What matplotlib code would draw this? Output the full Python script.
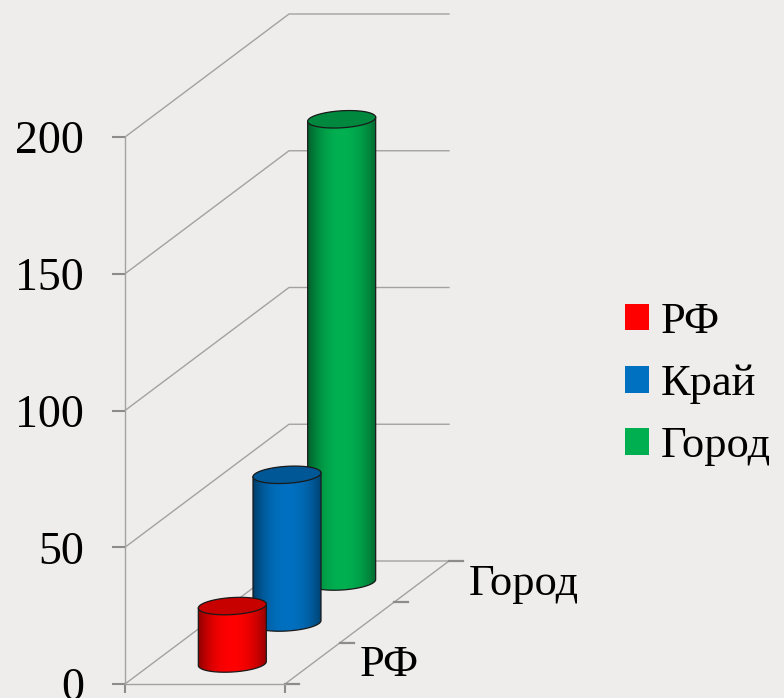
import numpy as np
import matplotlib
matplotlib.use("Agg")
import matplotlib.pyplot as plt
from matplotlib.patches import Polygon, Patch

# Data
series = ["РФ", "Край", "Город"]
values = [21, 54, 169]
colors = ["#FF0000", "#0070C0", "#00B050"]
yticks = [0, 50, 100, 150, 200]
depth_label_idx = [0, 2]  # the "Край" label is skipped in the original

# Geometry (pixels -> data units), figure is 784x698 px
W, H = 784, 698
X0_PX, Y0_PX = 125, 684          # front-left floor corner
PX_X = 1 / 160                   # category width = 160 px
PX_Y = 200 / 547                 # 200 units = 547 px
DX = 164 * PX_X                  # depth offset of back wall
DY = 123 * PX_Y
BG = "#EEEDEB"
GRID = "#A2A2A2"
TICK = "#8C8C8C"
FONT = "Liberation Serif"
FS = 33

fig = plt.figure(figsize=(W / 100, H / 100), dpi=100, facecolor=BG)
ax = fig.add_axes([0, 0, 1, 1])
ax.set_facecolor(BG)
ax.set_xlim(-X0_PX * PX_X, (W - X0_PX) * PX_X)
ax.set_ylim(-(H - Y0_PX) * PX_Y, Y0_PX * PX_Y)

# walls: gridlines on left wall and back wall
for v in yticks:
    ax.plot([0, DX, 1 + DX], [v, v + DY, v + DY], color=GRID, lw=1.0, zorder=1)
# floor edges
ax.plot([1, 1 + DX], [0, DY], color=GRID, lw=1.0, zorder=1)
# depth ticks along right floor edge
for k in range(len(series) + 1):
    d = k / len(series)
    x, y = 1 + d * DX, d * DY
    ax.plot([x, x + 14 * PX_X], [y, y], color=TICK, lw=1.6, zorder=1)
for i in depth_label_idx:
    d = (i + 0.5) / len(series)
    ax.text(1 + d * DX + 47 * PX_X, d * DY - 2 * PX_Y, series[i], ha="left", va="center",
            fontsize=FS - 1, family=FONT, color="black")

# axis spines / ticks
for s in ["top", "right"]:
    ax.spines[s].set_visible(False)
ax.spines["left"].set_position(("data", 0))
ax.spines["left"].set_bounds(0, 200)
ax.spines["bottom"].set_position(("data", 0))
ax.spines["bottom"].set_bounds(0, 1)
for s in ["left", "bottom"]:
    ax.spines[s].set_color(GRID)
    ax.spines[s].set_linewidth(1.0)
ax.set_yticks(yticks)
ax.set_yticklabels([str(v) for v in yticks], fontsize=FS, family=FONT)
ax.set_xticks([0, 1])
ax.set_xticklabels(["", ""])
ax.tick_params(axis="y", length=9.5, width=1.5, color=TICK, pad=20)
ax.tick_params(axis="x", length=6.5, width=1.5, color=TICK)


def shade(color, s):
    base = np.array(matplotlib.colors.to_rgb(color))
    f = np.where(s < 0.5, 1 - 0.45 * ((0.5 - s) / 0.5) ** 2.2,
                 1 - 0.40 * ((s - 0.5) / 0.5) ** 2.2)
    return np.clip(base[None, :] * f[:, None], 0, 1)


def cylinder(cx, y0, h, color, z):
    a = 34 * PX_X
    b = 8.5 * PX_Y
    tilt = 2.0 * PX_Y
    th = np.linspace(np.pi, 2 * np.pi, 80)
    bx = cx + a * np.cos(th)
    by = y0 + b * np.sin(th) + tilt * np.cos(th)
    th2 = np.linspace(0, np.pi, 80)
    tx = cx + a * np.cos(th2)
    ty = y0 + h + b * np.sin(th2) + tilt * np.cos(th2)
    body = np.column_stack([np.r_[bx, tx], np.r_[by, ty]])
    poly = Polygon(body, closed=True, facecolor="none", edgecolor="none", zorder=z)
    ax.add_patch(poly)
    s = np.linspace(0, 1, 200)
    img = shade(color, s)[None, :, :]
    im = ax.imshow(img, extent=[cx - a, cx + a, y0 - b - tilt, y0 + h + b + tilt],
                   aspect="auto", interpolation="bilinear", zorder=z)
    im.set_clip_path(poly)
    # body outline
    ax.plot(np.r_[cx - a, bx, cx + a], np.r_[y0 + h - tilt, by, y0 + h + tilt],
            color="#1A1A1A", lw=0.9, zorder=z + 0.1)
    # top ellipse
    th3 = np.linspace(0, 2 * np.pi, 160)
    ex = cx + a * np.cos(th3)
    ey = y0 + h + b * np.sin(th3) + tilt * np.cos(th3)
    top_c = np.array(matplotlib.colors.to_rgb(color)) * 0.78
    ax.add_patch(Polygon(np.column_stack([ex, ey]), closed=True, facecolor=top_c,
                         edgecolor="#1A1A1A", lw=0.9, zorder=z + 0.2))


n = len(series)
for i in reversed(range(n)):
    d = (i + 0.5) / n
    cylinder(0.5 + d * DX, d * DY, values[i], colors[i], z=5 + (n - i))

ax.set_xlim(-X0_PX * PX_X, (W - X0_PX) * PX_X)
ax.set_ylim(-(H - Y0_PX) * PX_Y, Y0_PX * PX_Y)

handles = [Patch(facecolor=c, edgecolor="none") for c in colors]
ax.legend(handles, series, loc="center left", bbox_to_anchor=(625 / W, 1 - 384 / H),
          frameon=False, prop={"family": FONT, "size": FS - 1}, handlelength=0.55,
          handleheight=0.55, handletextpad=0.25, labelspacing=0.5,
          borderpad=0, borderaxespad=0)

fig.savefig("out.png", dpi=100, facecolor=BG)
